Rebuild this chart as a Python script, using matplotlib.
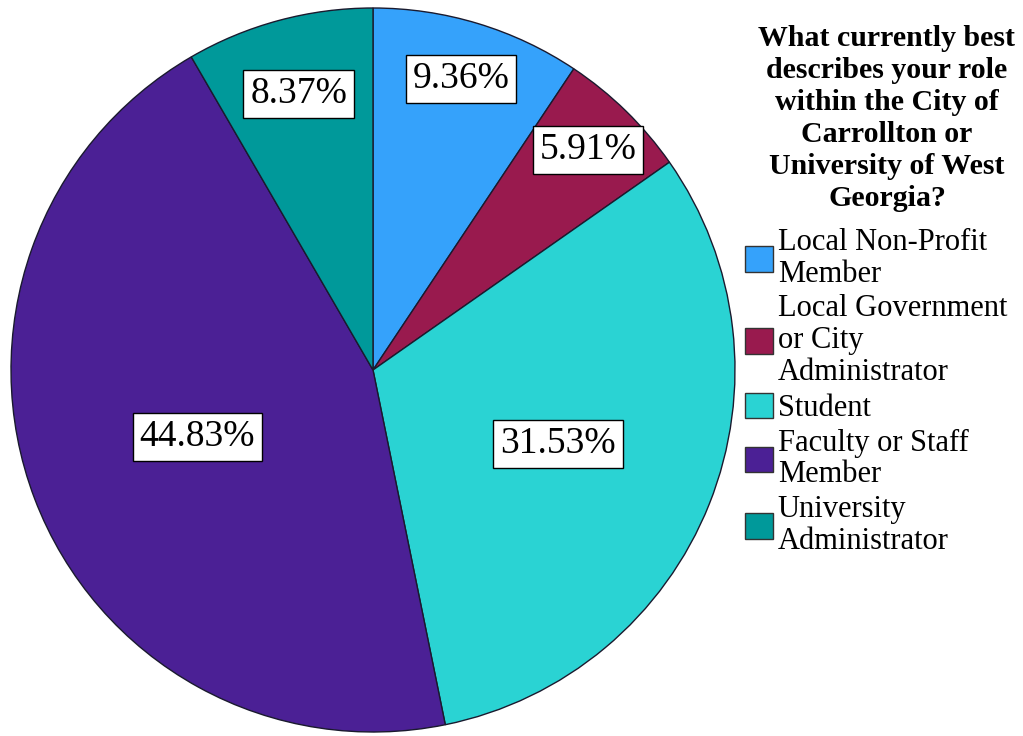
import numpy as np
import matplotlib
matplotlib.use("Agg")
from matplotlib import pyplot as plt

plt.rcParams['font.family'] = ['Liberation Serif', 'DejaVu Serif']

# survey responses, percent of respondents
roles = ['Local Non-Profit\nMember',
         'Local Government\nor City\nAdministrator',
         'Student',
         'Faculty or Staff\nMember',
         'University\nAdministrator']
shares = [9.36, 5.91, 31.53, 44.83, 8.37]
colors = ['#35a2fb', '#991a4e', '#2ad3d3', '#4b2095', '#00999a']
# radial position of each percent label (fraction of radius)
label_r = [0.84, 0.85, 0.55, 0.52, 0.79]
title = ('What currently best\ndescribes your role\nwithin the City of\n'
         'Carrollton or\nUniversity of West\nGeorgia?')

fig = plt.figure(figsize=(10.23, 7.36), dpi=100)
ax = fig.add_axes([11/1023, 4/736, 724/1023, 724/736])

wedges, _ = ax.pie(shares, colors=colors, startangle=90, counterclock=False,
                   radius=1, wedgeprops=dict(edgecolor='#1a1a2e', linewidth=1.0))
ax.set_xlim(-1.0, 1.0)
ax.set_ylim(-1.0, 1.0)
ax.set_aspect('equal')

for w, val, r in zip(wedges, shares, label_r):
    mid = np.deg2rad((w.theta1 + w.theta2) / 2)
    ax.text(r * np.cos(mid), r * np.sin(mid), f'{val:.2f}%',
            ha='center', va='center', fontsize=27,
            bbox=dict(boxstyle='square,pad=0.18', fc='white', ec='black', lw=1.0))

# legend title sits a little right of the entry column
fig.text(887/1023, 1 - 25/736, title, ha='center', va='top', fontsize=21.5,
         fontweight='bold', linespacing=1.24)

leg = fig.legend(wedges, roles, loc='upper left',
                 bbox_to_anchor=(745/1023, 1 - 228/736), frameon=False,
                 fontsize=22, handlelength=0.92, handleheight=0.92,
                 handletextpad=0.15, labelspacing=0.18, borderpad=0,
                 borderaxespad=0)
for t in leg.get_texts():
    t.set_linespacing(1.13)
for p in leg.get_patches():
    p.set_edgecolor('#333333')
    p.set_linewidth(1.0)

fig.savefig('out.png', dpi=100)
